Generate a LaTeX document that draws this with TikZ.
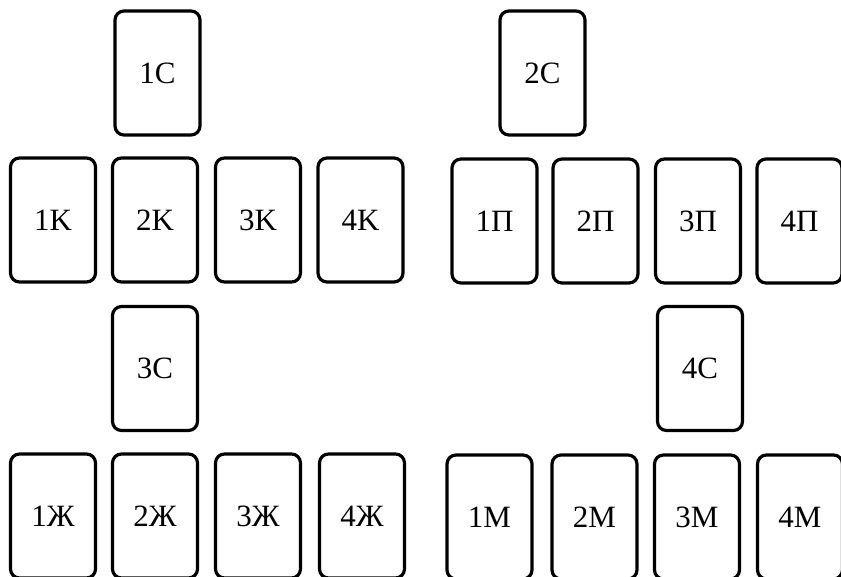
\documentclass[tikz,border=0pt]{standalone}
\usepackage{fontspec}
\setmainfont{Liberation Serif}
\begin{document}
\begin{tikzpicture}[x=1pt,y=-1pt,
  card/.style={draw=black,line width=3.2pt,rounded corners=9pt,minimum width=85pt,minimum height=124pt,inner sep=0pt,font=\fontsize{31}{33}\selectfont}]
\useasboundingbox (0,0) rectangle (841,577);
\clip (0,0) rectangle (841,577);
\node[card] (c1) at (157.5,73) {1C};
\node[card] (c2) at (542.5,73) {2C};
\node[card] (k1) at (53,220) {1K};
\node[card] (k2) at (155,220) {2K};
\node[card] (k3) at (258,220) {3K};
\node[card] (k4) at (360.5,220) {4K};
\node[card] (p1) at (494.5,221) {1П};
\node[card] (p2) at (595.5,221) {2П};
\node[card] (p3) at (698,221) {3П};
\node[card] (p4) at (799.5,221) {4П};
\node[card] (c3) at (155,368.5) {3C};
\node[card] (c4) at (700,368.5) {4C};
\node[card] (z1) at (53,516) {1Ж};
\node[card] (z2) at (155,516) {2Ж};
\node[card] (z3) at (258,516) {3Ж};
\node[card] (z4) at (362,516) {4Ж};
\node[card] (m1) at (489.5,517) {1M};
\node[card] (m2) at (594.5,517) {2M};
\node[card] (m3) at (697,517) {3M};
\node[card] (m4) at (800,517) {4M};
\end{tikzpicture}
\end{document}
